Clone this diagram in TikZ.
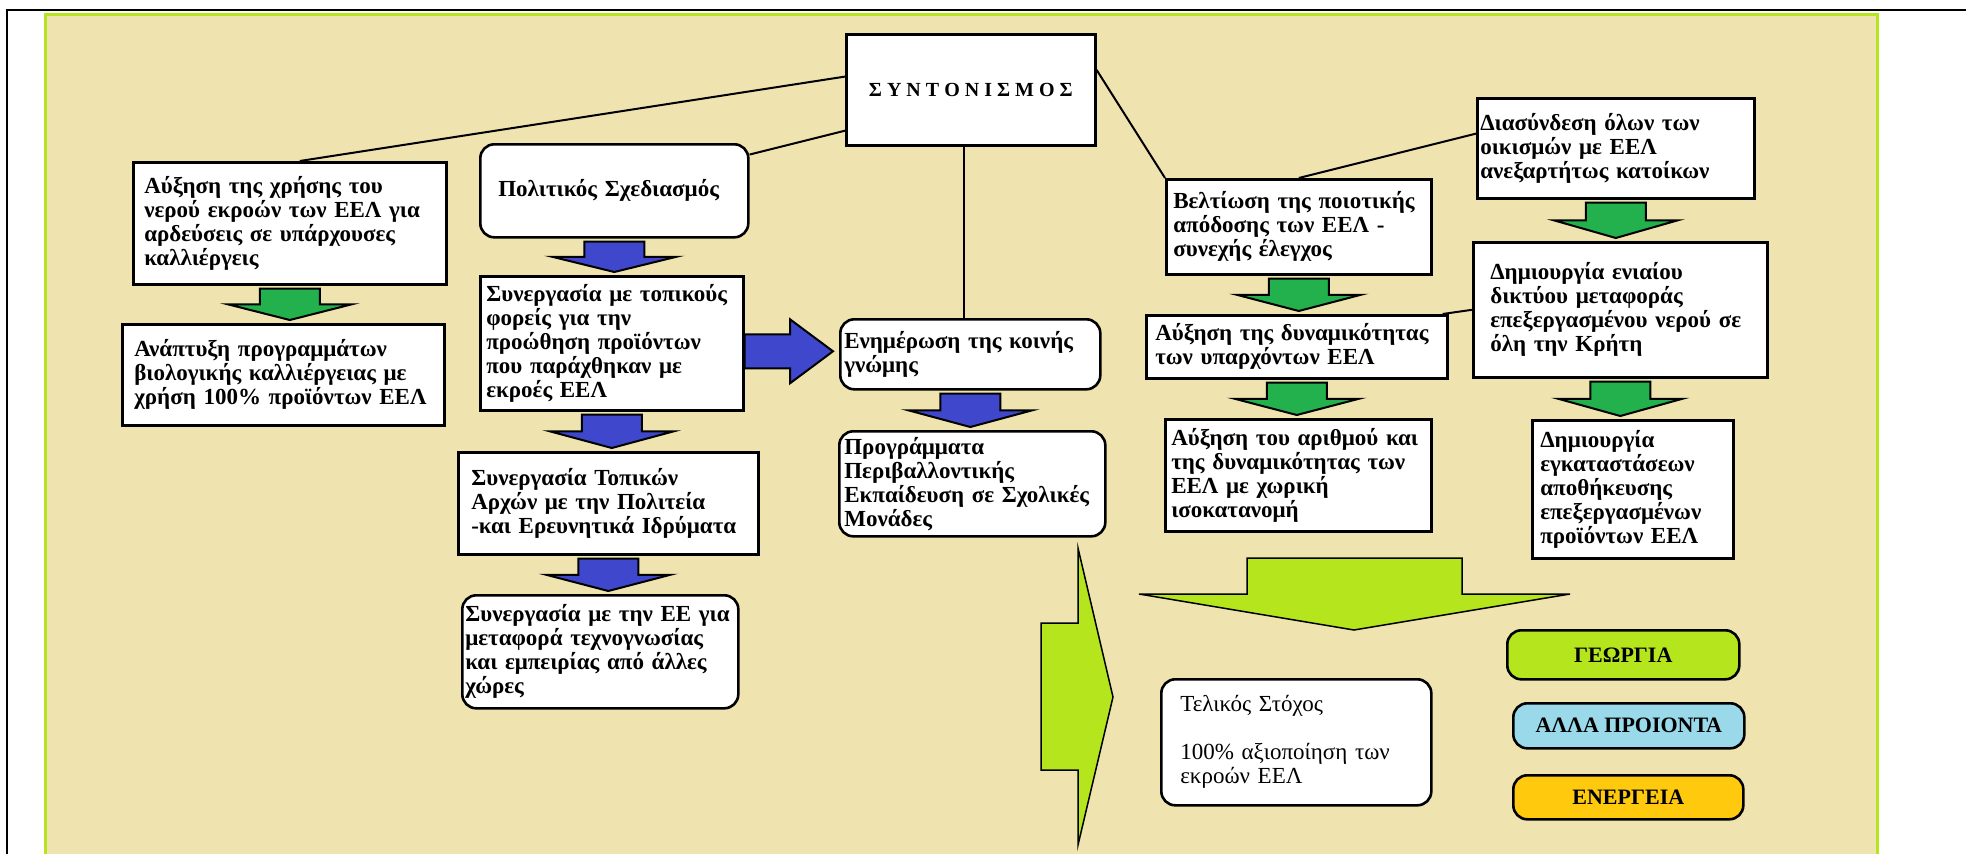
\documentclass[tikz,border=0pt]{standalone}
\usepackage{fontspec}
\setmainfont{Liberation Serif}
\usetikzlibrary{calc}

\definecolor{panel}{HTML}{EFE4B0}
\definecolor{lime}{HTML}{B5E61D}
\definecolor{arrblue}{HTML}{3F48CC}
\definecolor{arrgreen}{HTML}{22B14C}
\definecolor{skyblue}{HTML}{99D9EA}
\definecolor{gold}{HTML}{FFC90E}

\tikzset{
  box/.style={draw, fill=white, line width=2.6pt, anchor=north west, align=left,
    inner ysep=0pt, font=\bfseries\fontsize{23}{24}\selectfont},
  rbox/.style={box, rounded corners=14pt},
  tag/.style={draw, line width=2.6pt, rounded corners=14pt, anchor=north west,
    inner sep=0pt, font=\bfseries\fontsize{22}{24}\selectfont},
  link/.style={line width=2pt},
  fatdown/.style={fill=#1, draw=black, line width=2pt, line join=miter, to path={
    let \p1=(\tikztostart.south), \p2=(\tikztotarget.north) in
    (\x1-30pt,\y1-3pt) -- (\x1+30pt,\y1-3pt) -- (\x1+30pt,{(\y1+\y2)/2})
    -- (\x1+62pt,{(\y1+\y2)/2}) -- (\x1,\y2+3pt) -- (\x1-62pt,{(\y1+\y2)/2})
    -- (\x1-30pt,{(\y1+\y2)/2}) -- cycle}},
  fatright/.style={fill=#1, draw=black, line width=2pt, line join=miter, to path={
    let \p1=(\tikztostart.east), \p2=(\tikztotarget.west) in
    (\x1,\y2+20pt) -- (\x2-49pt,\y2+20pt) -- (\x2-49pt,\y2+35pt) -- (\x2-6pt,\y2+3pt)
    -- (\x2-49pt,\y2-29pt) -- (\x2-49pt,\y2-14pt) -- (\x1,\y2-14pt) -- cycle}},
}

\begin{document}
\begin{tikzpicture}[x=1pt, y=-1pt]
\useasboundingbox (0,0) rectangle (1966,854);
\fill[white] (0,0) rectangle (1966,854);
\draw[line width=2pt] (7,900) -- (7,10) -- (1980,10);
\filldraw[draw=lime, fill=panel, line width=3pt] (45,14) rectangle (1877,900);

\node[box, minimum width=249pt, minimum height=111pt, align=center,
  font=\bfseries\fontsize{20}{22}\selectfont] (synt) at (845,33) {Σ Υ Ν Τ Ο Ν Ι Σ Μ Ο Σ};

\node[box, inner xsep=11pt, text width=291pt, minimum height=122pt] (auxa) at (132,161)
  {Αύξηση της χρήσης του\\νερού εκροών των ΕΕΛ για\\αρδεύσεις σε υπάρχουσες\\καλλιέργεις};
\node[box, inner xsep=12pt, text width=298pt, minimum height=101pt] (anap) at (121,323)
  {Ανάπτυξη προγραμμάτων\\βιολογικής καλλιέργειας με\\χρήση 100\% προϊόντων ΕΕΛ};

\node[rbox, inner xsep=18pt, text width=232pt, minimum height=93pt] (pol) at (479,143)
  {Πολιτικός Σχεδιασμός};
\node[box, inner xsep=6pt, text width=251pt, minimum height=134pt] (syn1) at (479,275)
  {Συνεργασία με τοπικούς\\φορείς για την\\προώθηση προϊόντων\\που παράχθηκαν με\\εκροές ΕΕΛ};
\node[box, inner xsep=13pt, text width=274pt, minimum height=102pt] (syntop) at (457,451)
  {Συνεργασία Τοπικών\\Αρχών με την Πολιτεία\\-και Ερευνητικά Ιδρύματα};
\node[rbox, inner xsep=3pt, text width=270pt, minimum height=113pt] (synee) at (461,594)
  {Συνεργασία με την ΕΕ για\\μεταφορά τεχνογνωσίας\\και εμπειρίας από άλλες\\χώρες};

\node[rbox, inner xsep=4pt, text width=252pt, minimum height=70pt] (enim) at (839,318)
  {Ενημέρωση της κοινής\\γνώμης};
\node[rbox, inner xsep=5pt, text width=256pt, minimum height=105pt] (prog) at (838,430)
  {Προγράμματα\\Περιβαλλοντικής\\Εκπαίδευση σε Σχολικές\\Μονάδες};

\node[box, inner xsep=7pt, text width=251pt, minimum height=95pt] (belt) at (1165,178)
  {Βελτίωση της ποιοτικής\\απόδοσης των ΕΕΛ -\\συνεχής έλεγχος};
\node[box, inner xsep=9pt, text width=283pt, minimum height=63pt] (auxdyn) at (1145,314)
  {Αύξηση της δυναμικότητας\\των υπαρχόντων ΕΕΛ};
\node[box, inner xsep=6pt, text width=254pt, minimum height=112pt] (auxar) at (1164,418)
  {Αύξηση του αριθμού και\\της δυναμικότητας των\\ΕΕΛ με χωρική\\ισοκατανομή};

\node[box, inner xsep=3pt, text width=271pt, minimum height=100pt] (dias) at (1476,97)
  {Διασύνδεση όλων των\\οικισμών με ΕΕΛ\\ανεξαρτήτως κατοίκων};
\node[box, inner xsep=17pt, text width=260pt, minimum height=135pt] (dimen) at (1472,241)
  {Δημιουργία ενιαίου\\δικτύου μεταφοράς\\επεξεργασμένου νερού σε\\όλη την Κρήτη};
\node[box, inner xsep=8pt, text width=185pt, minimum height=138pt] (dimeg) at (1531,419)
  {Δημιουργία\\εγκαταστάσεων\\αποθήκευσης\\επεξεργασμένων\\προϊόντων ΕΕΛ};

\node[rbox, inner xsep=19pt, text width=232pt, minimum height=126pt,
  font=\fontsize{23}{24}\selectfont] (telos) at (1160,678)
  {Τελικός Στόχος\\[24pt]100\% αξιοποίηση των\\εκροών ΕΕΛ};

\node[tag, fill=lime, minimum width=232pt, minimum height=49pt] (geo) at (1506,629) {ΓΕΩΡΓΙΑ};
\node[tag, fill=skyblue, minimum width=231pt, minimum height=45pt] (alla) at (1512,702) {ΑΛΛΑ ΠΡΟΙΟΝΤΑ};
\node[tag, fill=gold, minimum width=230pt, minimum height=44pt] (ener) at (1512,774) {ΕΝΕΡΓΕΙΑ};

\draw[link] (synt.174) -- ([xshift=10pt]auxa.north);
\draw[link] (synt.198) -- (pol.15);
\draw[link] ([xshift=-7pt]synt.south) -- ([xshift=-7pt]synt.south |- enim.north);
\draw[link] (synt.9) -- (belt.north west);
\draw[link] (belt.north) -- (dias.174);
\draw[link] (dimen.west) -- ([xshift=-6pt]auxdyn.north east);

\draw[fatdown=arrgreen] (auxa) to (anap);
\draw[fatdown=arrblue] (pol) to (syn1);
\draw[fatdown=arrblue] (syn1) to (syntop);
\draw[fatdown=arrblue] (syntop) to (synee);
\draw[fatdown=arrblue] (enim) to (prog);
\draw[fatright=arrblue] (syn1) to (enim);
\draw[fatdown=arrgreen] (belt) to (auxdyn);
\draw[fatdown=arrgreen] (auxdyn) to (auxar);
\draw[fatdown=arrgreen] (dias) to (dimen);
\draw[fatdown=arrgreen] (dimen) to (dimeg);

\filldraw[fill=lime, line width=1.5pt] (1041,623) -- (1078,623) -- (1078,548) -- (1113,697)
  -- (1078,845) -- (1078,770) -- (1041,770) -- cycle;
\filldraw[fill=lime, line width=1.5pt] (1247,558) -- (1462,558) -- (1462,594) -- (1570,594)
  -- (1354,630) -- (1139,594) -- (1247,594) -- cycle;
\end{tikzpicture}
\end{document}
